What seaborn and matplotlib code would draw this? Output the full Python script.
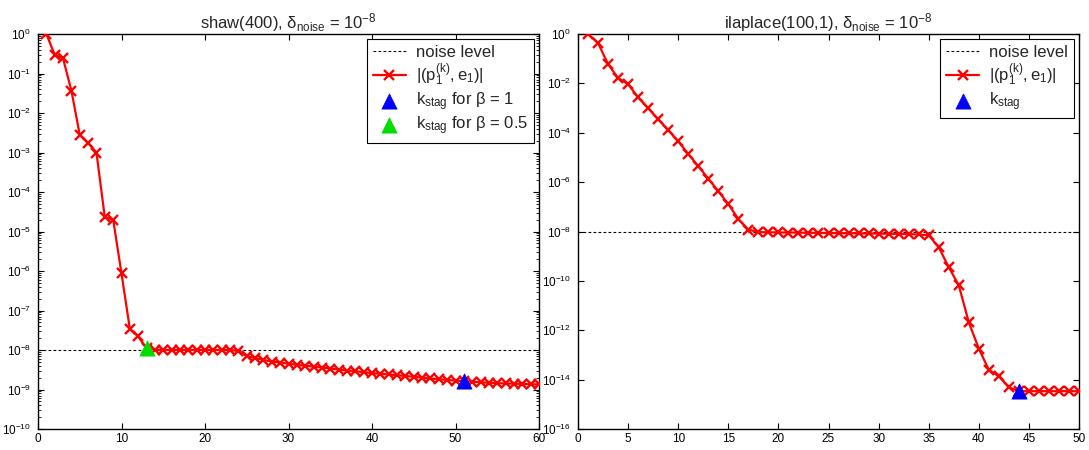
import numpy as np
import pandas as pd
import matplotlib
matplotlib.use("Agg")
import matplotlib.pyplot as plt
import matplotlib.ticker as mticker
import seaborn as sns

# ---------------- data ----------------
noise_level = 1e-8

shaw_k = list(range(1, 61))
shaw_vals = [1.0, 0.30, 0.24, 0.037, 2.8e-3, 1.75e-3, 1.0e-3, 2.3e-5, 2.0e-5, 8.7e-7,
             3.4e-8, 2.2e-8, 1.1e-8, 1.0e-8, 1.0e-8, 1.0e-8, 1.0e-8, 1.0e-8, 1.0e-8, 1.0e-8,
             1.0e-8, 1.0e-8, 1.0e-8, 9.5e-9, 7.0e-9, 6.3e-9, 5.6e-9, 5.1e-9, 4.8e-9, 4.5e-9,
             4.2e-9, 4.0e-9, 3.8e-9, 3.6e-9, 3.4e-9, 3.2e-9, 3.0e-9, 2.9e-9, 2.75e-9, 2.6e-9,
             2.5e-9, 2.4e-9, 2.3e-9, 2.2e-9, 2.1e-9, 2.0e-9, 1.9e-9, 1.82e-9, 1.75e-9, 1.68e-9,
             1.62e-9, 1.57e-9, 1.52e-9, 1.48e-9, 1.45e-9, 1.42e-9, 1.40e-9, 1.38e-9, 1.36e-9, 1.35e-9]
shaw_kstag_beta1 = 51
shaw_kstag_beta05 = 13

ilap_k = list(range(1, 51))
ilap_vals = [1.0, 0.43, 0.06, 0.0165, 0.0093, 2.7e-3, 1.0e-3, 3.5e-4, 1.3e-4, 4.5e-5,
             1.4e-5, 4.4e-6, 1.4e-6, 4.3e-7, 1.3e-7, 3.2e-8, 1.2e-8, 9.4e-9, 9.3e-9, 9.2e-9,
             9.1e-9, 9.0e-9, 8.9e-9, 8.8e-9, 8.7e-9, 8.6e-9, 8.5e-9, 8.4e-9, 8.3e-9, 8.2e-9,
             8.1e-9, 8.0e-9, 7.8e-9, 7.6e-9, 7.0e-9, 2.3e-9, 3.6e-10, 6.7e-11, 2.1e-12, 1.8e-13,
             2.5e-14, 1.35e-14, 4.9e-15, 3.4e-15, 3.4e-15, 3.4e-15, 3.4e-15, 3.4e-15, 3.4e-15, 3.4e-15]
ilap_kstag = 44

shaw_xticks = [0, 10, 20, 30, 40, 50, 60]
ilap_xticks = [0, 5, 10, 15, 20, 25, 30, 35, 40, 45, 50]

shaw_title = r'shaw(400), $\delta_{\rm noise}$ = $10^{-8}$'
ilap_title = r'ilaplace(100,1), $\delta_{\rm noise}$ = $10^{-8}$'
lbl_noise = 'noise level'
lbl_curve = r'$|(p_1^{(k)},e_1)|$'
lbl_b1 = r'$k_{\rm stag}$ for $\beta$ = 1'
lbl_b05 = r'$k_{\rm stag}$ for $\beta$ = 0.5'
lbl_stag = r'$k_{\rm stag}$'

# ---------------- style ----------------
sns.set_style("ticks")
plt.rcParams['font.family'] = ['Liberation Sans', 'DejaVu Sans']
plt.rcParams['mathtext.fontset'] = 'custom'
plt.rcParams['mathtext.rm'] = 'Liberation Sans'
plt.rcParams['mathtext.it'] = 'Liberation Sans'
plt.rcParams['mathtext.sf'] = 'Liberation Sans'
plt.rcParams['mathtext.bf'] = 'Liberation Sans:bold'
plt.rcParams['axes.edgecolor'] = 'black'
plt.rcParams['axes.linewidth'] = 1.0
plt.rcParams['xtick.color'] = 'black'
plt.rcParams['ytick.color'] = 'black'

fig = plt.figure(figsize=(10.89, 4.5), dpi=100)
ax1 = fig.add_axes([38/1089, 21/450, 501/1089, 395/450])
ax2 = fig.add_axes([578/1089, 21/450, 501/1089, 395/450])

def draw(ax, k, vals, stags, title, xmax, xticks, ymin, ystep, labels_stag):
    ax.axhline(noise_level, color='black', lw=0.8, ls=(0, (2.5, 2)), label=lbl_noise, zorder=1)
    df = pd.DataFrame({'k': k, 'v': vals})
    sns.lineplot(data=df, x='k', y='v', ax=ax, color='red', lw=1.6, marker='x',
                 markersize=7.5, markeredgewidth=1.7, markeredgecolor='red',
                 label=lbl_curve, zorder=3)
    for (ks, col), lab in zip(stags, labels_stag):
        sdf = pd.DataFrame({'k': [ks], 'v': [vals[k.index(ks)]]})
        sns.scatterplot(data=sdf, x='k', y='v', ax=ax, marker='^', s=120, color=col,
                        edgecolor=col, linewidth=0.5, label=lab, zorder=5)
    ax.set_yscale('log')
    ax.set_xlim(0, xmax)
    ax.set_ylim(ymin, 1.0)
    ax.set_xticks(xticks)
    ax.set_xlabel('')
    ax.set_ylabel('')
    ax.set_title(title, fontsize=12, pad=3)
    if ystep == 1:
        ax.yaxis.set_major_locator(mticker.LogLocator(base=10, subs=[1.0], numticks=30))
        ax.yaxis.set_minor_locator(mticker.LogLocator(base=10, subs=np.arange(2, 10), numticks=30))
    else:
        ax.yaxis.set_major_locator(mticker.FixedLocator(
            [10.0**e for e in range(0, int(np.log10(ymin)) - 1, -ystep)]))
        ax.yaxis.set_minor_locator(mticker.NullLocator())
    ax.yaxis.set_major_formatter(mticker.LogFormatterSciNotation())
    ax.tick_params(which='both', direction='in', top=True, right=True, labelsize=8.5)
    ax.tick_params(axis='y', pad=5)
    ax.tick_params(axis='x', pad=3)
    ax.tick_params(which='major', length=4, width=0.8)
    ax.tick_params(which='minor', length=2, width=0.6)
    for s in ax.spines.values():
        s.set_visible(True)
        s.set_color('black')
    leg = ax.legend(loc='upper right', fontsize=12, frameon=True, fancybox=False,
                    edgecolor='black', framealpha=1, borderaxespad=0.3,
                    handlelength=2.0, labelspacing=0.12, borderpad=0.35, handletextpad=0.6)
    leg.get_frame().set_linewidth(0.8)

draw(ax1, shaw_k, shaw_vals, [(shaw_kstag_beta1, 'blue'), (shaw_kstag_beta05, '#00dd00')],
     shaw_title, 60, shaw_xticks, 1e-10, 1, [lbl_b1, lbl_b05])
draw(ax2, ilap_k, ilap_vals, [(ilap_kstag, 'blue')], ilap_title, 50, ilap_xticks, 1e-16, 2, [lbl_stag])

fig.savefig('out.png', dpi=100)
